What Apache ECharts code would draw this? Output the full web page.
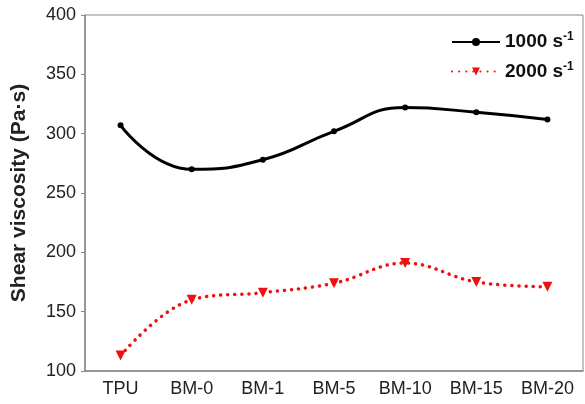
<!DOCTYPE html>
<html>
<head>
<meta charset="utf-8">
<script src="https://cdn.jsdelivr.net/npm/echarts@6/dist/echarts.min.js"></script>
<style>
  html, body { margin: 0; padding: 0; background: #fff; }
  #main { width: 585px; height: 404px; }
</style>
</head>
<body>
<div id="main"></div>
<script>
var categories = ['TPU', 'BM-0', 'BM-1', 'BM-5', 'BM-10', 'BM-15', 'BM-20'];
var rate1000 = [307, 270, 278, 302, 322, 318, 312];
var rate2000 = [113, 160, 166, 174, 191, 175, 171];
var yTicks = [100, 150, 200, 250, 300, 350, 400];

var font = 'Liberation Sans, Arial, sans-serif';

var chart = echarts.init(document.getElementById('main'));
chart.setOption({
    backgroundColor: '#fff',
    animation: false,
    grid: {
        left: 85,
        right: 2,
        top: 15,
        bottom: 33,
        show: true,
        borderColor: '#888',
        borderWidth: 1
    },
    legend: {
        left: 446,
        top: 26,
        orient: 'vertical',
        itemWidth: 48,
        itemHeight: 10,
        itemGap: 9,
        data: ['1000', '2000'],
        formatter: function (name) {
            return '{b|' + name + ' s}{sup|-1}';
        },
        textStyle: {
            rich: {
                b: { fontFamily: font, fontWeight: 'bold', fontSize: 19, color: '#111' },
                sup: { fontFamily: font, fontWeight: 'bold', fontSize: 12, color: '#111', verticalAlign: 'top', padding: [0, 0, 10, 0] }
            }
        }
    },
    xAxis: {
        type: 'category',
        data: categories,
        boundaryGap: true,
        axisLine: { lineStyle: { color: '#888', width: 1.5 } },
        axisTick: { inside: true, alignWithLabel: true, length: 4, lineStyle: { color: '#888' } },
        axisLabel: { fontFamily: font, fontSize: 18, color: '#222', margin: 9, interval: 0 }
    },
    yAxis: {
        type: 'value',
        min: yTicks[0],
        max: yTicks[yTicks.length - 1],
        interval: 50,
        name: 'Shear viscosity (Pa·s)',
        nameLocation: 'middle',
        nameGap: 55,
        nameTextStyle: { fontFamily: font, fontWeight: 'bold', fontSize: 21, color: '#222' },
        axisLine: { show: true, lineStyle: { color: '#888', width: 1.5 } },
        axisTick: { show: true, length: 4, lineStyle: { color: '#888' } },
        splitLine: { show: false },
        axisLabel: { fontFamily: font, fontSize: 18, color: '#222', margin: 9 }
    },
    series: [{
        name: '1000',
        type: 'line',
        data: rate1000,
        smooth: 0.5,
        symbol: 'circle',
        symbolSize: 6,
        itemStyle: { color: '#000' },
        lineStyle: { color: '#000', width: 3 }
    }, {
        name: '2000',
        type: 'line',
        data: rate2000,
        smooth: 0.4,
        symbol: 'triangle',
        symbolRotate: 180,
        symbolSize: 10,
        itemStyle: { color: '#ee1111' },
        lineStyle: { color: '#ee1111', width: 3.5, type: [0.1, 7], cap: 'round' }
    }]
});
</script>
</body>
</html>
